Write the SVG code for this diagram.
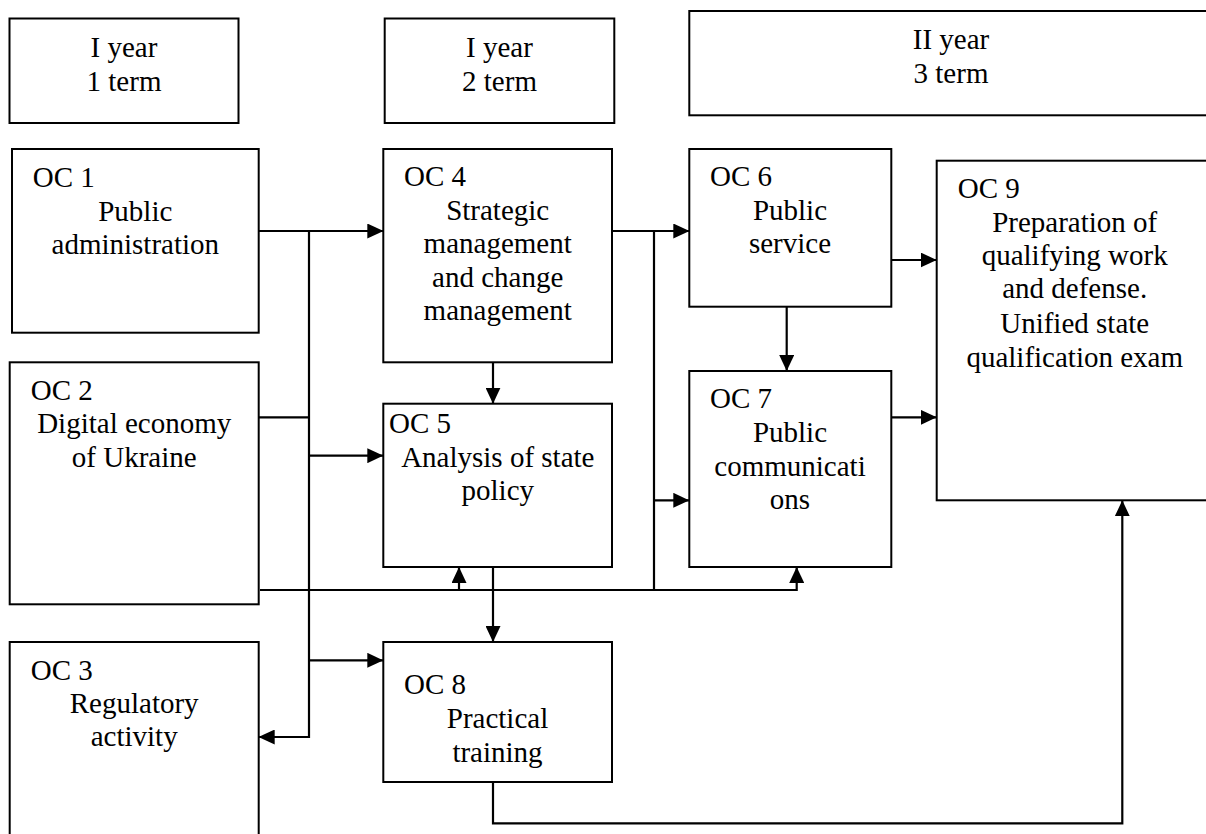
<svg xmlns="http://www.w3.org/2000/svg" width="1206" height="834" viewBox="0 0 1206 834">
<style>
.box{fill:#fff;stroke:#000;stroke-width:2}
text{font-family:'Liberation Serif','Times New Roman','DejaVu Serif',serif;font-size:29px;fill:#000}
.c{text-anchor:middle}
.ln{fill:none;stroke:#000;stroke-width:2.2}
.ar{marker-end:url(#ah)}
</style>
<defs>
<marker id="ah" markerUnits="userSpaceOnUse" markerWidth="16" markerHeight="15" viewBox="0 0 16 15" refX="16" refY="7.5" orient="auto">
<path d="M0,0 L16,7.5 L0,15 z" fill="#000"/>
</marker>
</defs>
<rect width="1206" height="834" fill="#fff"/>
<g font-family="Liberation Serif, Times New Roman, serif">
<g id="header1"><rect class="box" x="9.5" y="18.5" width="229" height="104.5"/>
<text class="c" x="124" y="56.5">I year</text><text class="c" x="124" y="90.5">1 term</text></g>
<g id="header2"><rect class="box" x="384.7" y="18.5" width="229.6" height="104.5"/>
<text class="c" x="499.5" y="56.5">I year</text><text class="c" x="499.5" y="90.5">2 term</text></g>
<g id="header3"><rect class="box" x="689.3" y="11" width="523" height="104.3"/>
<text class="c" x="951" y="49">II year</text><text class="c" x="951" y="82.7">3 term</text></g>

<g id="oc1"><rect class="box" x="12" y="149" width="246.7" height="183.7"/>
<text x="32.7" y="187">OC 1</text>
<text class="c" x="135.3" y="220.7">Public</text><text class="c" x="135.3" y="254">administration</text></g>
<g id="oc2"><rect class="box" x="9.7" y="362.3" width="249" height="242"/>
<text x="30.7" y="400">OC 2</text>
<text class="c" x="134.2" y="433.3">Digital economy</text><text class="c" x="134.2" y="466.7">of Ukraine</text></g>
<g id="oc3"><rect class="box" x="9.7" y="642" width="249" height="200"/>
<text x="30.7" y="680">OC 3</text>
<text class="c" x="134.2" y="712.7">Regulatory</text><text class="c" x="134.2" y="746">activity</text></g>
<g id="oc4"><rect class="box" x="383.3" y="149" width="228.7" height="213.3"/>
<text x="404" y="186">OC 4</text>
<text class="c" x="497.7" y="220">Strategic</text><text class="c" x="497.7" y="253.3">management</text>
<text class="c" x="497.7" y="286.7">and change</text><text class="c" x="497.7" y="320">management</text></g>
<g id="oc5"><rect class="box" x="383.3" y="403.7" width="228.7" height="163.3"/>
<text x="389" y="433.3">OC 5</text>
<text class="c" x="497.8" y="466.7">Analysis of state</text><text class="c" x="497.8" y="500">policy</text></g>
<g id="oc8"><rect class="box" x="383.3" y="642" width="228.7" height="140"/>
<text x="404" y="694">OC 8</text>
<text class="c" x="497.5" y="728.3">Practical</text><text class="c" x="497.5" y="761.7">training</text></g>
<g id="oc6"><rect class="box" x="689.3" y="149" width="202" height="157.7"/>
<text x="710" y="186">OC 6</text>
<text class="c" x="790" y="220">Public</text><text class="c" x="790" y="253.3">service</text></g>
<g id="oc7"><rect class="box" x="689.3" y="371" width="202" height="196"/>
<text x="710" y="408.3">OC 7</text>
<text class="c" x="790" y="441.7">Public</text><text class="c" x="790" y="475.5">communicati</text><text class="c" x="790" y="509">ons</text></g>
<g id="oc9"><rect class="box" x="936.7" y="160.7" width="276" height="339.6"/>
<text x="957.7" y="198.3">OC 9</text>
<text class="c" x="1074.7" y="231.7">Preparation of</text><text class="c" x="1074.7" y="265">qualifying work</text>
<text class="c" x="1074.7" y="298.3">and defense.</text><text class="c" x="1074.7" y="332.7">Unified state</text>
<text class="c" x="1074.7" y="366.7">qualification exam</text></g>
</g>
<g id="connectors">
<path class="ln ar" d="M258.7,231 H383.3"/>
<path class="ln ar" d="M309,231 V737 H258.7"/>
<path class="ln" d="M258.7,417.3 H309"/>
<path class="ln ar" d="M309,455.7 H383.3"/>
<path class="ln ar" d="M309,660.3 H383.3"/>
<path class="ln ar" d="M260,590 H796.7 V567"/>
<path class="ln ar" d="M459,590 V567"/>
<path class="ln ar" d="M612,231 H689.3"/>
<path class="ln" d="M654,231 V590"/>
<path class="ln ar" d="M654,500.3 H689.3"/>
<path class="ln ar" d="M493,362.3 V403.7"/>
<path class="ln ar" d="M493,567 V642"/>
<path class="ln ar" d="M786.7,306.7 V371"/>
<path class="ln ar" d="M891.3,260 H936.7"/>
<path class="ln ar" d="M891.3,417.3 H936.7"/>
<path class="ln ar" d="M493,782 V823.3 H1122.3 V500.3"/>
</g>
</svg>
